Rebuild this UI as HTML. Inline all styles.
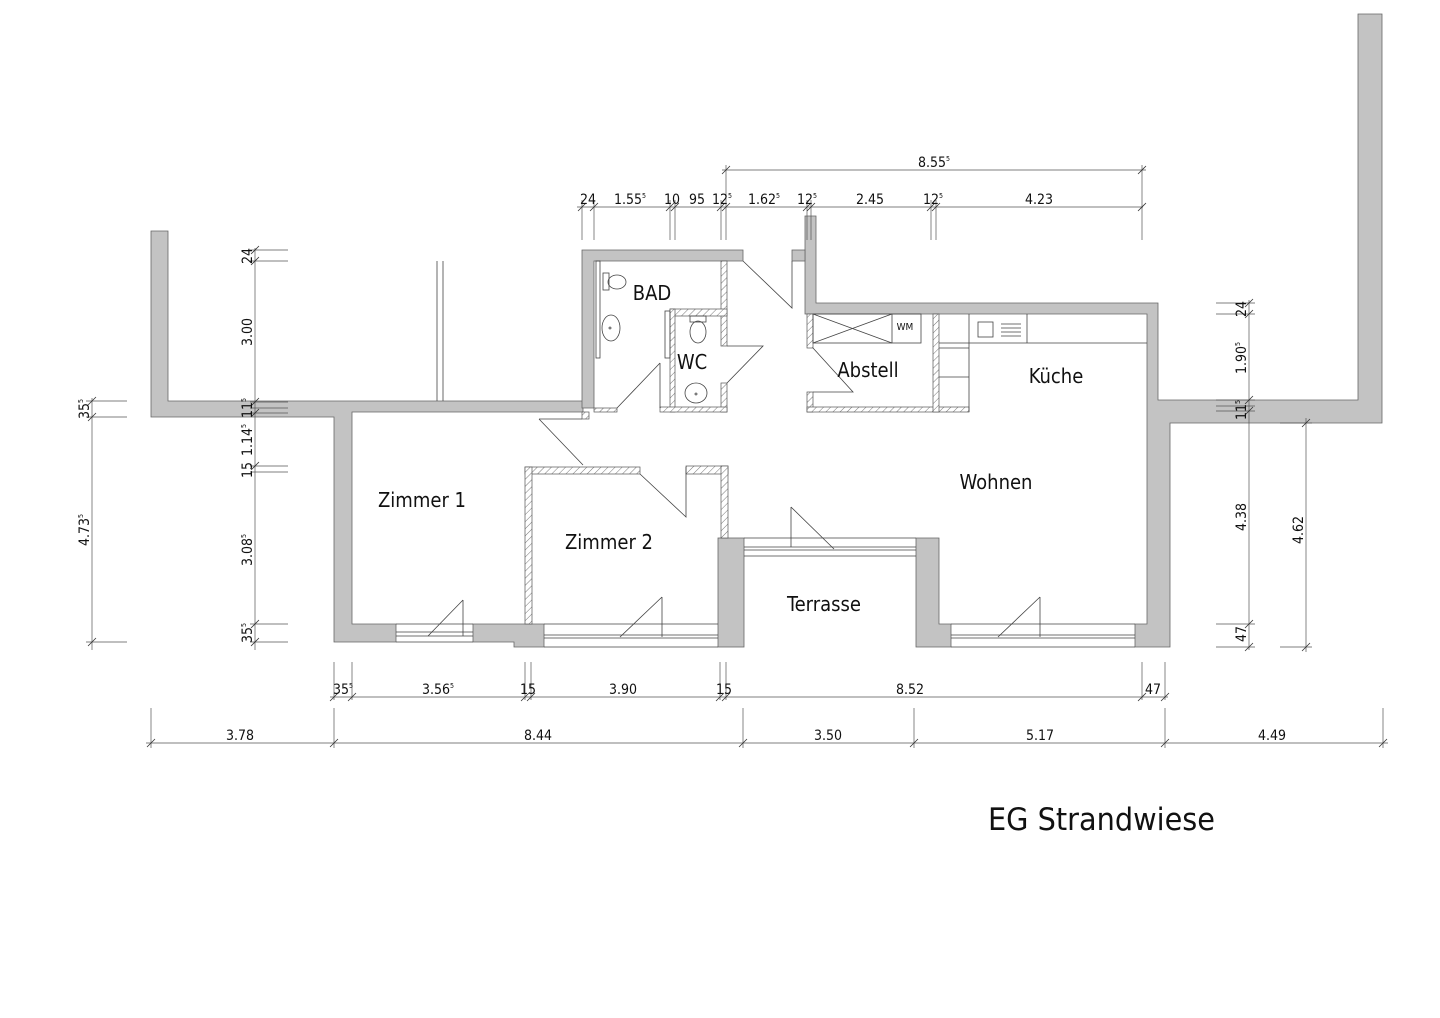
<!DOCTYPE html>
<html><head><meta charset="utf-8"><style>
html,body{margin:0;padding:0;background:#fff;}
svg{display:block;}
text{font-family:"DejaVu Sans Condensed","DejaVu Sans","Liberation Sans",sans-serif;fill:#111;}
.d{font-size:14px;}
.r{font-size:20px;}
.s{font-size:7px;}
</style></head><body>
<svg width="1440" height="1018" viewBox="0 0 1440 1018" xmlns="http://www.w3.org/2000/svg">
<defs>
<pattern id="h" width="5" height="5" patternUnits="userSpaceOnUse" patternTransform="rotate(45)">
<rect width="5" height="5" fill="#fff"/><line x1="0" y1="0" x2="0" y2="5" stroke="#555" stroke-width="0.8"/>
</pattern>
</defs>
<g fill="#c3c3c3" stroke="#666" stroke-width="0.8">
<polygon points="151,231 168,231 168,401 583,401 583,412 352,412 352,624 396,624 396,642 334,642 334,417 151,417"/>
<polygon points="473,624 544,624 544,647 514,647 514,642 473,642"/>
<polygon points="582,250 743,250 743,261 594,261 594,408 582,408"/>
<polygon points="805,216 816,216 816,303 1158,303 1158,400 1358,400 1358,14 1382,14 1382,423 1170,423 1170,647 1135,647 1135,624 1147,624 1147,314 805,314"/>
<rect x="792" y="250" width="13" height="11"/>
<rect x="718" y="538" width="26" height="109"/>
<polygon points="916,538 939,538 939,624 951,624 951,647 916,647"/>
</g>
<g fill="url(#h)" stroke="#555" stroke-width="0.7">
<rect x="594" y="408" width="23" height="4"/>
<rect x="582" y="412" width="7" height="7"/>
<rect x="721" y="261" width="6" height="85"/>
<rect x="721" y="383" width="6" height="29"/>
<rect x="670" y="309" width="57" height="7"/>
<rect x="670" y="309" width="5" height="103"/>
<rect x="660" y="407" width="67" height="5"/>
<rect x="807" y="314" width="6" height="34"/>
<rect x="807" y="392" width="6" height="20"/>
<rect x="807" y="407" width="162" height="5"/>
<rect x="933" y="314" width="6" height="98"/>
<rect x="525" y="467" width="115" height="7"/>
<rect x="525" y="467" width="7" height="157"/>
<rect x="686" y="466" width="42" height="8"/>
<rect x="721" y="466" width="7" height="72"/>
</g>
<g fill="none" stroke="#444" stroke-width="0.8">
<path d="M396 624H473M396 632H473M396 636H473M396 642H473"/>
<path d="M544 624H718M544 635H718M544 638H718M544 647H718"/>
<path d="M951 624H1135M951 635H1135M951 638H1135M951 647H1135"/>
<path d="M744 538H916M744 547H916M744 550H916M744 556H916"/>
<path d="M463 600V636M463 600L428 636"/>
<path d="M662 597V637M662 597L620 637"/>
<path d="M1040 597V637M1040 597L998 637"/>
<path d="M791 507V547M791 507L834 549"/>
<path d="M743 261L792 308V261"/>
<path d="M727 346H763L727 383"/>
<path d="M660 363V408M660 363L617 408"/>
<path d="M813 348L853 392H813"/>
<path d="M539 419H582M539 419L583 465"/>
<path d="M640 474L686 517V467"/>
<path d="M437 261V401M443 261V401"/>
<rect x="596" y="261" width="4" height="97"/>
<rect x="665" y="311" width="5" height="47"/>
<rect x="603" y="273" width="6" height="17"/><ellipse cx="617" cy="282" rx="9" ry="7"/>
<ellipse cx="611" cy="328" rx="9" ry="13"/><circle cx="610" cy="328" r="1"/>
<ellipse cx="698" cy="332" rx="8" ry="11"/><rect x="690" y="316" width="16" height="6"/>
<ellipse cx="696" cy="393" rx="11" ry="10"/><circle cx="696" cy="394" r="1"/>
<rect x="813" y="314" width="108" height="29"/><path d="M813 314L892 343M813 343L892 314M892 314V343"/>
<path d="M939 343H1147M969 343V412M939 348H969M939 377H969"/>
<path d="M969 343V314"/>
<rect x="978" y="322" width="15" height="15"/><path d="M1001 324H1021M1001 328H1021M1001 332H1021M1001 336H1021M1027 314V343"/>
</g>
<g stroke="#555" stroke-width="0.7" fill="none">
<path d="M255 248V650M250 250H288M250 261H288M250 402H288M250 408H288M250 413H288M250 466H288M250 472H288M250 624H288M250 642H288"/>
<path d="M92 398V650M86 401H127M86 417H127M86 642H127"/>
<path d="M1249 300V650M1216 303H1255M1216 314H1255M1216 400H1255M1216 406H1255M1216 411H1255M1216 624H1255M1216 647H1255"/>
<path d="M1306 418V652M1280 423H1312M1280 647H1312"/>
<path d="M577 207H1143M582 200V240M594 200V240M670 200V240M675 200V240M721 200V240M726 165V240M807 200V240M811 200V240M931 200V240M936 200V240M1142 165V240"/>
<path d="M722 170H1146"/>
<path d="M330 697H1168M334 662V700M352 662V700M525 662V700M531 662V700M720 662V700M726 662V700M1142 662V700M1165 662V700"/>
<path d="M146 743H1388M151 708V748M334 708V748M743 708V748M914 708V748M1165 708V748M1383 708V748"/>
</g>
<g stroke="#333" stroke-width="0.8">
<path d="M251 254l8-8M251 265l8-8M251 406l8-8M251 417l8-8M251 470l8-8M251 628l8-8M251 646l8-8"/>
<path d="M88 405l8-8M88 421l8-8M88 646l8-8"/>
<path d="M1245 307l8-8M1245 318l8-8M1245 404l8-8M1245 415l8-8M1245 628l8-8M1245 651l8-8M1302 427l8-8M1302 651l8-8"/>
<path d="M578 211l8-8M590 211l8-8M666 211l8-8M671 211l8-8M717 211l8-8M722 211l8-8M803 211l8-8M807 211l8-8M927 211l8-8M932 211l8-8M1138 211l8-8M722 174l8-8M1138 174l8-8"/>
<path d="M330 701l8-8M348 701l8-8M521 701l8-8M527 701l8-8M716 701l8-8M722 701l8-8M1138 701l8-8M1161 701l8-8"/>
<path d="M147 747l8-8M330 747l8-8M739 747l8-8M910 747l8-8M1161 747l8-8M1379 747l8-8"/>
</g>
<g class="d" text-anchor="middle">
<text x="588" y="204">24</text><text x="630" y="204">1.55<tspan class="s" dy="-6">5</tspan></text>
<text x="672" y="204">10</text><text x="697" y="204">95</text>
<text x="722" y="204">12<tspan class="s" dy="-6">5</tspan></text>
<text x="764" y="204">1.62<tspan class="s" dy="-6">5</tspan></text>
<text x="807" y="204">12<tspan class="s" dy="-6">5</tspan></text>
<text x="870" y="204">2.45</text>
<text x="933" y="204">12<tspan class="s" dy="-6">5</tspan></text>
<text x="1039" y="204">4.23</text>
<text x="934" y="167">8.55<tspan class="s" dy="-6">5</tspan></text>
<text x="343" y="694">35<tspan class="s" dy="-6">5</tspan></text>
<text x="438" y="694">3.56<tspan class="s" dy="-6">5</tspan></text>
<text x="528" y="694">15</text><text x="623" y="694">3.90</text><text x="724" y="694">15</text>
<text x="910" y="694">8.52</text><text x="1153" y="694">47</text>
<text x="240" y="740">3.78</text><text x="538" y="740">8.44</text><text x="828" y="740">3.50</text>
<text x="1040" y="740">5.17</text><text x="1272" y="740">4.49</text>
<text transform="translate(252,256) rotate(-90)">24</text>
<text transform="translate(252,332) rotate(-90)">3.00</text>
<text transform="translate(252,408) rotate(-90)">11<tspan class="s" dy="-6">5</tspan></text>
<text transform="translate(252,440) rotate(-90)">1.14<tspan class="s" dy="-6">5</tspan></text>
<text transform="translate(252,470) rotate(-90)">15</text>
<text transform="translate(252,550) rotate(-90)">3.08<tspan class="s" dy="-6">5</tspan></text>
<text transform="translate(252,633) rotate(-90)">35<tspan class="s" dy="-6">5</tspan></text>
<text transform="translate(89,409) rotate(-90)">35<tspan class="s" dy="-6">5</tspan></text>
<text transform="translate(89,530) rotate(-90)">4.73<tspan class="s" dy="-6">5</tspan></text>
<text transform="translate(1246,309) rotate(-90)">24</text>
<text transform="translate(1246,358) rotate(-90)">1.90<tspan class="s" dy="-6">5</tspan></text>
<text transform="translate(1246,410) rotate(-90)">11<tspan class="s" dy="-6">5</tspan></text>
<text transform="translate(1246,517) rotate(-90)">4.38</text>
<text transform="translate(1246,634) rotate(-90)">47</text>
<text transform="translate(1303,530) rotate(-90)">4.62</text>
</g>
<g class="r" text-anchor="middle">
<text x="652" y="300">BAD</text>
<text x="692" y="369">WC</text>
<text x="868" y="377">Abstell</text>
<text x="1056" y="383">Küche</text>
<text x="996" y="489">Wohnen</text>
<text x="422" y="507">Zimmer 1</text>
<text x="609" y="549">Zimmer 2</text>
<text x="824" y="611">Terrasse</text>
<text x="988" y="830" text-anchor="start" style="font-size:31px" textLength="227" lengthAdjust="spacingAndGlyphs">EG Strandwiese</text>
<text x="905" y="330" style="font-size:10px">WM</text>
</g>
</svg>
</body></html>
